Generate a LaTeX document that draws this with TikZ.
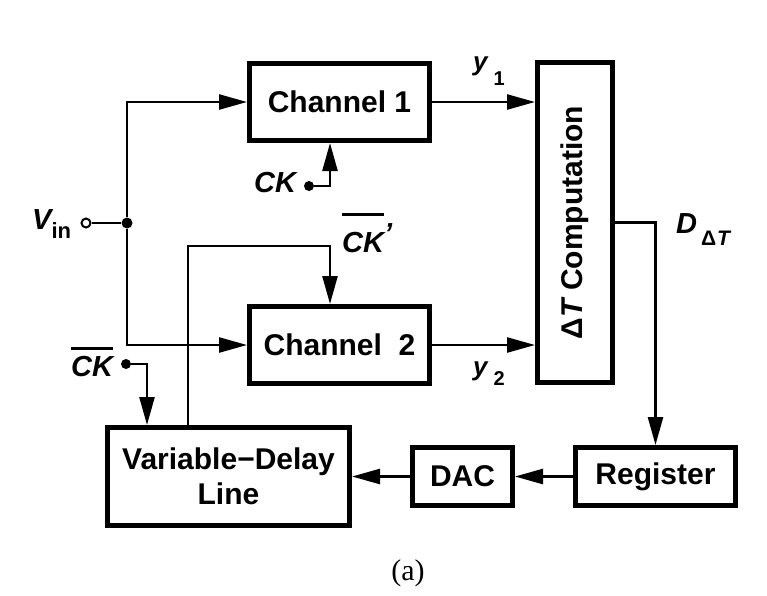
\documentclass[tikz,border=0pt]{standalone}
\usepackage{fontspec}
\setmainfont{Liberation Sans}
\newfontfamily\seriffam{Liberation Serif}
\usetikzlibrary{arrows.meta}
\newcommand{\ovlbar}[2]{\vbox{\hrule height 2.5pt\kern #1\hbox{#2}}}
\begin{document}
\begin{tikzpicture}[x=1pt,y=-1pt,
  blk/.style={draw,line width=5pt,inner sep=0pt,align=center,
    font=\fontsize{30}{35}\selectfont\bfseries},
  wire/.style={line width=2.5pt},
  arr/.style={wire,-{Triangle[length=28pt,width=15pt]}},
  dot/.style={circle,fill,inner sep=0pt,minimum size=10pt},
  lab/.style={inner sep=0pt,font=\fontsize{29}{29}\selectfont\bfseries\itshape}]
\useasboundingbox (0,0) rectangle (767,595);
% blocks
\node[blk,minimum width=180pt,minimum height=77pt] (ch1) at (339.5,102) {Channel 1};
\node[blk,minimum width=180pt,minimum height=77pt] (ch2) at (339.5,345) {Channel\ \ 2};
\node[blk,minimum width=75pt,minimum height=320pt] (dt) at (575,222.5)
  {\rotatebox{90}{Δ{\itshape T} Computation}};
\node[blk,minimum width=242pt,minimum height=98pt] (vdl) at (228.5,476.5) {Variable−Delay\\Line};
\node[blk,minimum width=100pt,minimum height=58pt] (dac) at (462.5,476.5) {DAC};
\node[blk,minimum width=160pt,minimum height=58pt] (reg) at (655.5,476.5) {Register};
% input
\node[circle,draw,line width=2pt,fill=white,inner sep=0pt,minimum size=9pt] (vin) at (86,223) {};
\node[dot,minimum size=11pt] (j) at (127,223) {};
\draw[wire] (vin) -- (j);
\draw[arr] (j) |- (ch1.west);
\draw[arr] (j) |- (ch2.west);
% CK to channel 1
\node[dot] (ck) at (309,186) {};
\coordinate (ckx) at (330,186);
\draw[arr] (ck) -- (ckx) -- (ckx |- ch1.south);
% feedback CK'
\coordinate (fb1) at (188,246);
\coordinate (fb2) at (330,246);
\draw[arr] (vdl.north -| fb1) -- (fb1) -- (fb2) -- (fb2 |- ch2.north);
% CKbar to VDL
\node[dot] (ckb) at (126,364) {};
\coordinate (ckbx) at (147,364);
\draw[arr] (ckb) -- (ckbx) -- (ckbx |- vdl.north);
% outputs
\draw[arr] (ch1.east) -- (dt.west |- ch1.east);
\draw[arr] (ch2.east) -- (dt.west |- ch2.east);
\draw[arr] (dt.east) -| (reg.north);
\draw[arr] (reg.west) -- (dac.east);
\draw[arr] (dac.west) -- (vdl.east);
% labels
\node[lab,anchor=base west] (lvin) at (32,229)
  {V\raisebox{-9pt}{\upshape\fontsize{22}{22}\selectfont in}};
\node[lab,anchor=base west] (lck) at (254,192) {CK};
\node[lab,anchor=base west] (lckb) at (71,376) {\ovlbar{6pt}{CK}};
\node[lab,anchor=base west] (lckp) at (342,252) {\ovlbar{16pt}{CK}\raisebox{9pt}{’}};
\node[lab,anchor=base west,font=\fontsize{26}{26}\selectfont\bfseries\itshape] (ly1) at (473,70)
  {y\kern6pt\raisebox{-15pt}{\upshape\fontsize{20}{20}\selectfont 1}};
\node[lab,anchor=base west,font=\fontsize{26}{26}\selectfont\bfseries\itshape] (ly2) at (473,375)
  {y\kern6pt\raisebox{-10pt}{\upshape\fontsize{20}{20}\selectfont 2}};
\node[lab,anchor=base west] (ld) at (676,233)
  {D\kern4pt\raisebox{-12pt}{\fontsize{21}{21}\selectfont{\upshape Δ}\kern1pt T}};
\node[inner sep=0pt,font=\seriffam\fontsize{30}{30}\selectfont] (cap) at (408,573) {(a)};
\end{tikzpicture}
\end{document}
